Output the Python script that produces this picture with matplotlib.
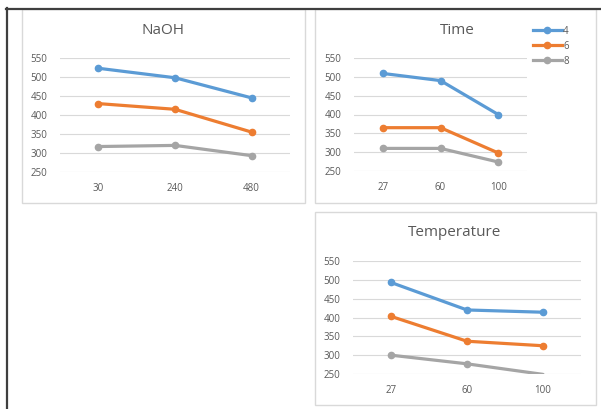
import matplotlib
matplotlib.use("Agg")
import matplotlib.pyplot as plt
from matplotlib.patches import Rectangle
from matplotlib.lines import Line2D

plt.rcParams['font.family'] = ['Open Sans', 'DejaVu Sans']

# data
series_names = ['4', '6', '8']
colors = ['#5B9BD5', '#ED7D31', '#A5A5A5']

naoh_cats = ['30', '240', '480']
naoh_4 = [523, 498, 445]
naoh_6 = [430, 415, 355]
naoh_8 = [317, 320, 293]

time_cats = ['27', '60', '100']
time_4 = [509, 490, 400]
time_6 = [365, 365, 298]
time_8 = [310, 310, 274]

temp_cats = ['27', '60', '100']
temp_4 = [493, 420, 414]
temp_6 = [403, 337, 325]
temp_8 = [300, 277, 249]

yticks = [250, 300, 350, 400, 450, 500, 550]
YMIN, YMAX = 250, 550

W, H = 601, 409
fig = plt.figure(figsize=(W / 100, H / 100), dpi=100)
TXT = '#595959'


def px_rect(x0, y0, x1, y1):
    # pixel box (top-left origin) -> figure fraction [l, b, w, h]
    return [x0 / W, 1 - y1 / H, (x1 - x0) / W, (y1 - y0) / H]


def panel(box, plot, title, title_xy, cats, s4, s6, s8):
    x0, y0, x1, y1 = box
    fig.patches.append(Rectangle((x0 / W, 1 - y1 / H), (x1 - x0) / W, (y1 - y0) / H,
                                 transform=fig.transFigure, fill=False,
                                 edgecolor='#D9D9D9', lw=1, zorder=0))
    ax = fig.add_axes(px_rect(*plot))
    xs = list(range(len(cats)))
    for name, vals, c in zip(series_names, [s4, s6, s8], colors):
        # excel drops markers that fall on/under the axis minimum
        shown = [i for i, v in enumerate(vals) if v > YMIN]
        ax.plot(xs, vals, color=c, lw=2.3, marker='o', ms=4.5,
                markevery=shown, solid_capstyle='round', zorder=3)
    ax.set_xlim(-0.5, len(cats) - 0.5)
    ax.set_ylim(YMIN, YMAX)
    ax.set_yticks(yticks)
    ax.set_xticks(xs)
    ax.set_xticklabels(cats)
    ax.grid(axis='y', color='#D9D9D9', lw=0.8)
    ax.set_axisbelow(True)
    for s in ax.spines.values():
        s.set_visible(False)
    ax.tick_params(length=0, labelsize=7, colors=TXT)
    ax.tick_params(axis='x', pad=8)
    ax.tick_params(axis='y', pad=9)
    ax.patch.set_alpha(0)
    fig.text(title_xy[0] / W, 1 - title_xy[1] / H, title, ha='center', va='center',
             fontsize=11, color=TXT)
    return ax


panel((22, 9, 305, 203), (60, 58, 290, 172), 'NaOH', (163, 31),
      naoh_cats, naoh_4, naoh_6, naoh_8)
panel((315, 9, 596, 203), (354, 58, 527, 171), 'Time', (457, 30),
      time_cats, time_4, time_6, time_8)
panel((315, 212, 596, 405), (353, 261, 581, 374), 'Temperature', (455, 233),
      temp_cats, temp_4, temp_6, temp_8)

handles = [Line2D([], [], color=c, lw=2.3, marker='o', ms=4.5) for c in colors]
leg = fig.legend(handles=handles, labels=series_names, loc='upper left',
                 bbox_to_anchor=(528 / W, 1 - 21 / H), frameon=False,
                 fontsize=7, handlelength=3.0, handletextpad=0.1,
                 labelspacing=0.4, borderpad=0, numpoints=1)
for t in leg.get_texts():
    t.set_color(TXT)

# dark frame at top and left
fig.lines.append(Line2D([6 / W, 1], [1 - 8.5 / H, 1 - 8.5 / H], transform=fig.transFigure,
                        color='#3F3F3F', lw=1.6, zorder=10))
fig.lines.append(Line2D([6.5 / W, 6.5 / W], [0, 1 - 8 / H], transform=fig.transFigure,
                        color='#3F3F3F', lw=1.6, zorder=10))

fig.savefig('out.png', dpi=100)
